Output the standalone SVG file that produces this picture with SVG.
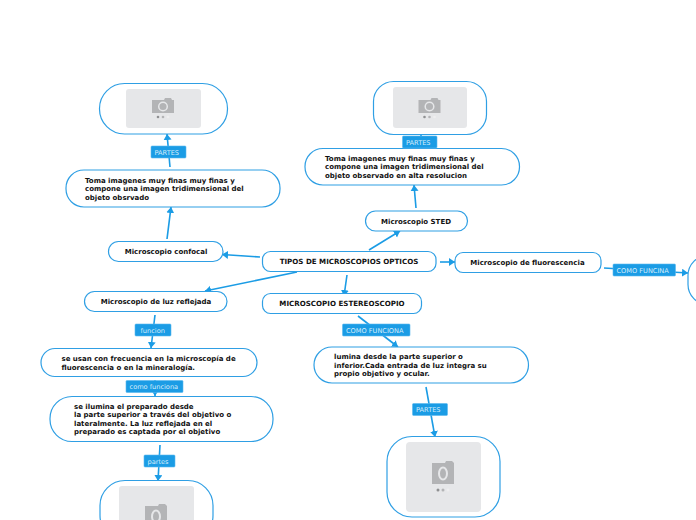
<svg xmlns="http://www.w3.org/2000/svg" width="696" height="520" viewBox="0 0 696 520">
<style>
.n{fill:#fff;stroke:#2f9fe4;stroke-width:1.2}
.t{font-family:"DejaVu Sans",Verdana,sans-serif;font-weight:bold;font-size:7px;fill:#111}
.u{font-size:7.1px}
.c{text-anchor:middle}
.l{fill:#1b9ce5;stroke:#5cb8ee;stroke-width:.6}
.lt{font-family:"DejaVu Sans",Verdana,sans-serif;font-size:6.600px;fill:#d6edfb}
.a{stroke:#1b9ce5;stroke-width:1.6;fill:none;marker-end:url(#ah)}
.i{fill:#e6e7e9}
.k{fill:#b3b4b6}
</style>
<defs>
<marker id="ah" markerUnits="userSpaceOnUse" markerWidth="9" markerHeight="9" refX="6" refY="4" orient="auto"><path d="M0 0L6 4L0 8Z" fill="#1b9ce5"/></marker>
<symbol id="cam" overflow="visible">
<path class="k" d="M0 2h12l1-2h6l1 2h2v13h-22z"/>
<circle cx="11" cy="8.500" r="4.300" fill="none" stroke="#e6e7e9" stroke-width="1.500"/>
<circle cx="6" cy="19" r="1.300" fill="#8f9092"/><circle cx="11" cy="19" r="1.300" fill="#b3b4b6"/><circle cx="16" cy="19" r="1.300" fill="#eeeeef"/>
</symbol>
<symbol id="camb" overflow="visible">
<path class="k" d="M0 2h13l1-2h6l2 2v21h-22z"/>
<ellipse cx="11" cy="12.500" rx="4" ry="6" fill="none" stroke="#e6e7e9" stroke-width="2"/>
<circle cx="6" cy="29" r="1.500" fill="#8f9092"/><circle cx="11" cy="29" r="1.500" fill="#b3b4b6"/><circle cx="16" cy="29" r="1.500" fill="#eeeeef"/>
</symbol>
</defs>
<g id="connectors">
<path class="a" d="M167 239L171 207"/>
<path class="a" d="M170 167L167 134"/>
<path class="a" d="M260 257L222 254.500"/>
<path class="a" d="M297 272L205 291"/>
<path class="a" d="M369 250L400 231"/>
<path class="a" d="M416 208L414 185"/>
<path class="a" d="M421 148L421 135"/>
<path class="a" d="M440 262L455 262"/>
<path class="a" d="M347 275L344 296"/>
<path class="a" d="M604 268L688 273"/>
<path class="a" d="M155 315L151 348"/>
<path class="a" d="M155 380L155 396"/>
<path class="a" d="M160 445L158 481"/>
<path class="a" d="M358 316L398 347"/>
<path class="a" d="M426 387L435 437"/>
</g>
<g id="n-img1"><rect class="n" x="99.500" y="83.500" width="128" height="50.500" rx="25"/><rect class="i" x="126" y="89" width="75" height="39" rx="3"/><use href="#cam" x="152" y="98"/></g>
<g id="n-text1"><rect class="n" x="66" y="170" width="214" height="37" rx="18"/><text class="t" x="85" y="183">Toma imagenes muy finas muy finas y</text><text class="t" x="85" y="191">compone una imagen tridimensional del</text><text class="t" x="85" y="200">objeto obsrvado</text></g>
<g id="n-confocal"><rect class="n" x="108.500" y="241.500" width="114.500" height="20" rx="10"/><text class="t c" x="166" y="254">Microscopio confocal</text></g>
<g id="n-img2"><rect class="n" x="373.500" y="81.500" width="113" height="53" rx="20"/><rect class="i" x="393" y="87" width="74" height="41" rx="3"/><use href="#cam" x="418.500" y="98"/></g>
<g id="n-text2"><rect class="n" x="305" y="148.500" width="214.500" height="36.500" rx="18"/><text class="t" x="325" y="161">Toma imagenes muy finas muy finas y</text><text class="t" x="325" y="169">compone una imagen tridimensional del</text><text class="t" x="325" y="178">objeto observado en alta resolucion</text></g>
<g id="n-sted"><rect class="n" x="365.500" y="211" width="102" height="20" rx="10"/><text class="t c" x="416" y="224">Microscopio STED</text></g>
<g id="n-central"><rect class="n" x="262.500" y="251.500" width="173.500" height="20" rx="8"/><text class="t c u" x="349" y="264">TIPOS DE MICROSCOPIOS OPTICOS</text></g>
<g id="n-fluor"><rect class="n" x="455" y="252.500" width="146" height="20" rx="8"/><text class="t c" x="527.500" y="265">Microscopio de fluorescencia</text></g>
<g id="n-img3"><rect class="n" x="688" y="255.500" width="40" height="49" rx="20"/></g>
<g id="n-estereo"><rect class="n" x="262.500" y="293.500" width="159" height="20" rx="8"/><text class="t c u" x="342" y="306">MICROSCOPIO ESTEREOSCOPIO</text></g>
<g id="n-luz"><rect class="n" x="84.500" y="291.500" width="142.500" height="20" rx="10"/><text class="t c" x="156" y="304">Microscopio de luz reflejada</text></g>
<g id="n-usan"><rect class="n" x="41" y="348.500" width="216" height="28" rx="14"/><text class="t" x="61.500" y="361">se usan con frecuencia en la microscopía de</text><text class="t" x="61.500" y="370">fluorescencia o en la mineralogía.</text></g>
<g id="n-ilumina"><rect class="n" x="50" y="396.500" width="223" height="45" rx="22"/><text class="t" x="74" y="409">se ilumina el preparado desde</text><text class="t" x="74" y="417">la parte superior a través del objetivo o</text><text class="t" x="74" y="426">lateralmente. La luz reflejada en el</text><text class="t" x="74" y="434">preparado es captada por el objetivo</text></g>
<g id="n-img4"><rect class="n" x="100" y="480.500" width="113" height="60" rx="25"/><rect class="i" x="119" y="486" width="75" height="50" rx="3"/><use href="#camb" x="145" y="504"/></g>
<g id="n-lumina"><rect class="n" x="314" y="347" width="214.500" height="36" rx="18"/><text class="t" x="334" y="359">lumina desde la parte superior o</text><text class="t" x="334" y="368">inferior.Cada entrada de luz integra su</text><text class="t" x="334" y="376">propio objetivo y ocular.</text></g>
<g id="n-img5"><rect class="n" x="387" y="436.500" width="113" height="80.500" rx="25"/><rect class="i" x="406" y="442" width="75" height="70" rx="4"/><use href="#camb" x="432" y="461"/></g>
<g id="labels">
<g id="l1"><rect class="l" x="151" y="146" width="35" height="12" rx="1"/><text class="lt" x="154.500" y="154.500">PARTES</text></g>
<g id="l2"><rect class="l" x="402.500" y="136" width="34.500" height="12" rx="1"/><text class="lt" x="406" y="144.500">PARTES</text></g>
<g id="l3"><rect class="l" x="613" y="264" width="62.500" height="12" rx="1"/><text class="lt" x="616.500" y="272.500">COMO FUNCINA</text></g>
<g id="l4"><rect class="l" x="135" y="324" width="36" height="12" rx="1"/><text class="lt" x="140.500" y="332.500">funcion</text></g>
<g id="l5"><rect class="l" x="126" y="380.500" width="57" height="12" rx="1"/><text class="lt" x="129.500" y="389">como funciona</text></g>
<g id="l6"><rect class="l" x="144" y="455" width="31" height="12" rx="1"/><text class="lt" x="147.500" y="463.500">partes</text></g>
<g id="l7"><rect class="l" x="342.500" y="324" width="67.500" height="12" rx="1"/><text class="lt" x="346" y="332.500">COMO FUNCIONA</text></g>
<g id="l8"><rect class="l" x="412.500" y="403.500" width="35" height="12" rx="1"/><text class="lt" x="416" y="412">PARTES</text></g>
</g>
</svg>
